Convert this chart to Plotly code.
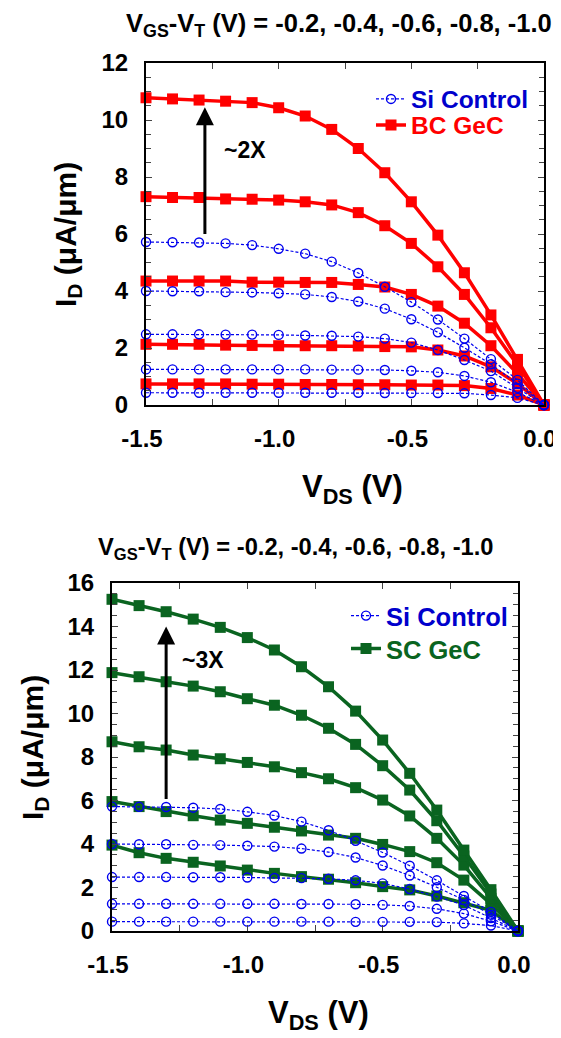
import plotly.graph_objects as go

# ---------------- data ----------------
vds = [-1.5, -1.4, -1.3, -1.2, -1.1, -1.0, -0.9, -0.8, -0.7, -0.6, -0.5, -0.4, -0.3, -0.2, -0.1, 0.0]

si_02 = [0.43, 0.43, 0.43, 0.43, 0.43, 0.43, 0.43, 0.43, 0.43, 0.42, 0.42, 0.42, 0.41, 0.35, 0.25, 0.0]
si_04 = [1.25, 1.25, 1.25, 1.25, 1.25, 1.25, 1.25, 1.24, 1.24, 1.23, 1.20, 1.15, 1.02, 0.80, 0.45, 0.0]
si_06 = [2.48, 2.48, 2.48, 2.47, 2.47, 2.46, 2.44, 2.43, 2.40, 2.33, 2.19, 1.93, 1.58, 1.19, 0.60, 0.0]
si_08 = [4.00, 3.99, 3.99, 3.96, 3.95, 3.92, 3.88, 3.79, 3.63, 3.38, 3.01, 2.55, 2.01, 1.43, 0.75, 0.0]
si_10 = [5.72, 5.71, 5.70, 5.67, 5.61, 5.48, 5.31, 5.03, 4.63, 4.15, 3.61, 3.00, 2.33, 1.61, 0.88, 0.0]

bc_02 = [0.74, 0.74, 0.74, 0.74, 0.73, 0.73, 0.72, 0.72, 0.71, 0.71, 0.70, 0.70, 0.68, 0.58, 0.35, 0.0]
bc_04 = [2.13, 2.13, 2.13, 2.10, 2.09, 2.08, 2.08, 2.08, 2.07, 2.05, 2.04, 1.93, 1.72, 1.34, 0.75, 0.0]
bc_06 = [4.35, 4.35, 4.35, 4.35, 4.31, 4.31, 4.30, 4.30, 4.23, 4.14, 3.88, 3.47, 2.87, 2.08, 1.10, 0.0]
bc_08 = [7.31, 7.28, 7.28, 7.23, 7.22, 7.19, 7.13, 7.02, 6.75, 6.29, 5.67, 4.85, 3.88, 2.71, 1.40, 0.0]
bc_10 = [10.78, 10.74, 10.70, 10.66, 10.61, 10.43, 10.14, 9.67, 9.00, 8.15, 7.13, 5.96, 4.64, 3.16, 1.60, 0.0]

sc_02 = [3.95, 3.60, 3.34, 3.16, 2.99, 2.80, 2.65, 2.50, 2.38, 2.22, 2.04, 1.89, 1.61, 1.30, 0.95, 0.0]
sc_04 = [5.95, 5.72, 5.49, 5.30, 5.10, 4.95, 4.77, 4.60, 4.41, 4.26, 3.98, 3.65, 3.14, 2.34, 1.25, 0.0]
sc_06 = [8.70, 8.47, 8.32, 8.09, 7.92, 7.75, 7.55, 7.28, 7.00, 6.59, 6.02, 5.29, 4.26, 3.03, 1.50, 0.0]
sc_08 = [11.88, 11.69, 11.46, 11.26, 11.00, 10.68, 10.38, 9.92, 9.32, 8.58, 7.60, 6.48, 5.07, 3.45, 1.70, 0.0]
sc_10 = [15.25, 14.96, 14.68, 14.34, 13.96, 13.49, 12.92, 12.15, 11.23, 10.11, 8.78, 7.25, 5.56, 3.72, 1.90, 0.0]

si_curves = [si_02, si_04, si_06, si_08, si_10]
bc_curves = [bc_02, bc_04, bc_06, bc_08, bc_10]
sc_curves = [sc_02, sc_04, sc_06, sc_08, sc_10]

x_ticks = [-1.5, -1.0, -0.5, 0.0]
x_ticklabels = ["-1.5", "-1.0", "-0.5", "0.0"]

# ---------------- styles ----------------
W, H = 561, 1038
OFF = 8  # page body margin offset
FONT = "Liberation Sans, Arial, sans-serif"
BLUE = "#0000ee"
RED = "#ff0000"
GREEN = "#0a6420"


def px_x(p):
    return (p - OFF) / W


def px_y(p):
    return 1 - (p - OFF) / H


fig = go.Figure()

# top panel: BC GeC
for i, c in enumerate(bc_curves):
    fig.add_trace(go.Scatter(
        x=vds, y=c, mode="lines+markers", xaxis="x", yaxis="y",
        line=dict(color=RED, width=3.5),
        marker=dict(symbol="square", size=11, color=RED),
        name="<span style='color:#ff0000'>BC GeC</span>",
        showlegend=(i == 0), legend="legend3", cliponaxis=False))
for i, c in enumerate(si_curves):
    fig.add_trace(go.Scatter(
        x=vds, y=c, mode="lines+markers", xaxis="x", yaxis="y",
        line=dict(color=BLUE, width=1.2, dash="3px,2px"),
        marker=dict(symbol="circle-open", size=9, color=BLUE, line=dict(width=1.4)),
        name="<span style='color:#0000cc'>Si Control</span>",
        showlegend=(i == 0), legend="legend", cliponaxis=False))

# bottom panel: SC GeC
for i, c in enumerate(sc_curves):
    fig.add_trace(go.Scatter(
        x=vds, y=c, mode="lines+markers", xaxis="x2", yaxis="y2",
        line=dict(color=GREEN, width=3.5),
        marker=dict(symbol="square", size=11, color=GREEN),
        name="<span style='color:#0a6420'>SC GeC</span>",
        showlegend=(i == 0), legend="legend4", cliponaxis=False))
for i, c in enumerate(si_curves):
    fig.add_trace(go.Scatter(
        x=vds, y=c, mode="lines+markers", xaxis="x2", yaxis="y2",
        line=dict(color=BLUE, width=1.2, dash="3px,2px"),
        marker=dict(symbol="circle-open", size=9, color=BLUE, line=dict(width=1.4)),
        name="<span style='color:#0000cc'>Si Control</span>",
        showlegend=(i == 0), legend="legend2", cliponaxis=False))

tickfont = dict(family=FONT, size=24, color="black", weight="bold")


def xaxis(domain, anchor):
    return dict(domain=domain, anchor=anchor, range=[-1.5, 0.0], automargin=False,
                tickvals=x_ticks, ticktext=x_ticklabels,
                ticks="inside", ticklen=6, tickwidth=1.2, tickcolor="#444",
                minor=dict(dtick=0.25, ticks="inside", ticklen=6, tickcolor="#444", tickwidth=1.2),
                showline=True, linecolor="black", linewidth=2, mirror="ticks",
                showgrid=False, zeroline=False, tickfont=tickfont,
                ticklabelstandoff=11, ticklabelshift=-4)


def yaxis(domain, anchor, top):
    return dict(domain=domain, anchor=anchor, range=[0, top], dtick=2, automargin=False,
                ticks="inside", ticklen=6, tickwidth=1.2, tickcolor="#444",
                minor=dict(dtick=0.5, ticks="inside", ticklen=5, tickcolor="#444", tickwidth=1.2),
                showline=True, linecolor="black", linewidth=2, mirror="ticks",
                showgrid=False, zeroline=False, tickfont=tickfont,
                ticklabelstandoff=11)


top_x = [px_x(146), px_x(544)]
top_y = [px_y(405), px_y(63)]
bot_x = [px_x(112), px_x(518)]
bot_y = [px_y(931), px_y(583)]


def note(text, x, y, size, angle=0):
    return dict(text=text, xref="paper", yref="paper", x=px_x(x), y=px_y(y),
                xanchor="center", yanchor="middle", textangle=angle, showarrow=False,
                font=dict(family=FONT, size=size, color="black"))


ann = []
title_txt = "<b>V<sub>GS</sub>-V<sub>T</sub> (V) = -0.2, -0.4, -0.6, -0.8, -1.0</b>"
ann.append(note(title_txt, 339, 25, 25.5))
ann.append(note(title_txt, 295, 549, 23.7))
# axis titles
xt = "<b>V<sub>DS</sub> (V)</b>"
yt = "<b>I<sub>D</sub> (μA/μm)</b>"
ann.append(note(xt, 352, 489, 31))
ann.append(note(xt, 318, 1015, 31))
ann.append(note(yt, 67, 235, 30, -90))
ann.append(note(yt, 34, 748, 30, -90))
# arrows
ann.append(dict(x=-1.278, y=10.45, ax=-1.278, ay=5.95, xref="x", yref="y", axref="x", ayref="y",
                showarrow=True, arrowhead=2, arrowsize=1.2, arrowwidth=3, arrowcolor="black", text=""))
ann.append(dict(x=-1.127, y=8.95, xref="x", yref="y", text="<b>~2X</b>", showarrow=False,
                xanchor="center", yanchor="middle",
                font=dict(family=FONT, size=23, color="black")))
ann.append(dict(x=-1.30, y=14.0, ax=-1.30, ay=6.0, xref="x2", yref="y2", axref="x2", ayref="y2",
                showarrow=True, arrowhead=2, arrowsize=1.2, arrowwidth=3, arrowcolor="black", text=""))
ann.append(dict(x=-1.164, y=12.46, xref="x2", yref="y2", text="<b>~3X</b>", showarrow=False,
                xanchor="center", yanchor="middle",
                font=dict(family=FONT, size=23, color="black")))


def leg(x, y, size):
    return dict(x=px_x(x), y=px_y(y), xanchor="left", yanchor="middle",
                bgcolor="rgba(0,0,0,0)", font=dict(family=FONT, size=size, weight="bold"),
                tracegroupgap=0, itemwidth=30)


fig.update_layout(
    width=W, height=H,
    margin=dict(l=0, r=0, t=0, b=0, autoexpand=False),
    paper_bgcolor="white", plot_bgcolor="white",
    xaxis=xaxis(top_x, "y"),
    yaxis=yaxis(top_y, "x", 12),
    xaxis2=xaxis(bot_x, "y2"),
    yaxis2=yaxis(bot_y, "x2", 16),
    legend=leg(371, 99, 24.5),
    legend3=leg(371, 125, 24.5),
    legend2=leg(346, 616, 25.5),
    legend4=leg(346, 649, 25.5),
    annotations=ann,
    showlegend=True,
)

fig.write_html("out.html")
